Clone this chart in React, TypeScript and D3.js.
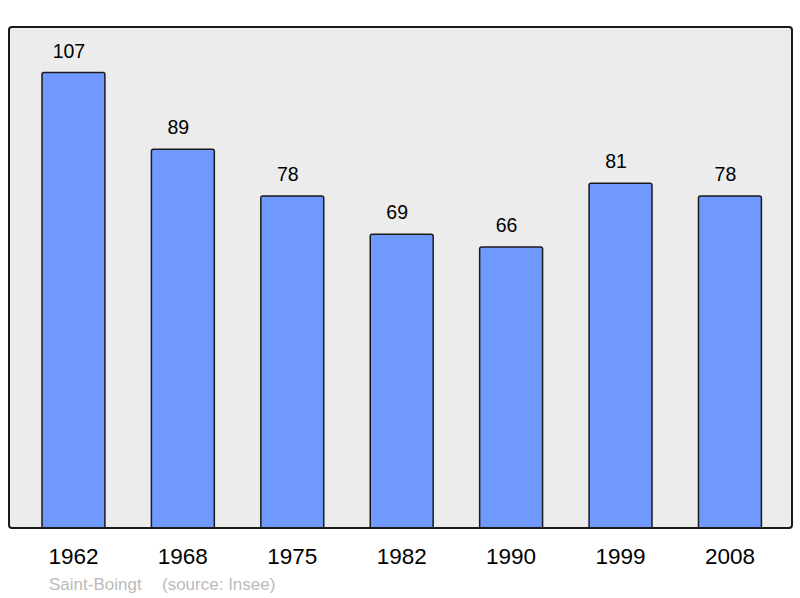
import React from "react";
import * as d3 from "d3";

const years = ["1962", "1968", "1975", "1982", "1990", "1999", "2008"];
const population = [107, 89, 78, 69, 66, 81, 78];
const placeName = "Saint-Boingt";
const sourceText = "(source: Insee)";

const W = 800;
const H = 598;
const frame = { left: 9, right: 792, top: 27, bottom: 528 };

export default function App() {
  const x = d3
    .scaleBand<string>()
    .domain(years)
    .range([frame.left, frame.right + 2.4])
    .paddingInner(0.425)
    .paddingOuter(0.3016);
  const yMax = (d3.max(population) as number) * 1.1;
  const y = d3.scaleLinear().domain([0, yMax]).range([frame.bottom, frame.top]);
  const font = "'Liberation Sans', Arial, sans-serif";

  return (
    <svg
      width={W}
      height={H}
      style={{ position: "absolute", left: 0, top: 0 }}
      fontFamily={font}
    >
      <defs>
        <clipPath id="plotclip">
          <rect
            x={frame.left}
            y={frame.top}
            width={frame.right - frame.left}
            height={frame.bottom - frame.top}
          />
        </clipPath>
      </defs>
      <rect x={0} y={0} width={W} height={H} fill="#ffffff" />
      <rect
        x={frame.left}
        y={frame.top}
        width={frame.right - frame.left}
        height={frame.bottom - frame.top}
        rx={3}
        fill="#ececec"
        stroke="none"
      />
      <g clipPath="url(#plotclip)">
        {years.map((yr, i) => {
          const v = population[i];
          const bx = x(yr) as number;
          const bw = x.bandwidth();
          const top = y(v);
          return (
            <rect
              key={yr}
              x={bx}
              y={top}
              width={bw}
              height={frame.bottom - top + 4}
              rx={2}
              fill="#7099ff"
              stroke="#1a1a1a"
              strokeWidth={1.5}
            />
          );
        })}
      </g>
      {years.map((yr, i) => {
        const v = population[i];
        const bx = x(yr) as number;
        const bw = x.bandwidth();
        const top = y(v);
        return (
          <g key={yr}>
            <text
              x={bx + bw / 2 - 4.5}
              y={top - 15}
              textAnchor="middle"
              fontSize={19.5}
              fill="#000"
            >
              {v}
            </text>
            <text
              x={bx + bw / 2}
              y={564}
              textAnchor="middle"
              fontSize={22.5}
              fill="#000"
            >
              {yr}
            </text>
          </g>
        );
      })}
      <rect
        x={frame.left}
        y={frame.top}
        width={frame.right - frame.left}
        height={frame.bottom - frame.top}
        rx={3}
        fill="none"
        stroke="#1a1a1a"
        strokeWidth={2}
      />
      <text x={49} y={590} fontSize={17} fill="#bbbbbb">
        {placeName}
      </text>
      <text x={162} y={590} fontSize={17} fill="#bbbbbb">
        {sourceText}
      </text>
    </svg>
  );
}
